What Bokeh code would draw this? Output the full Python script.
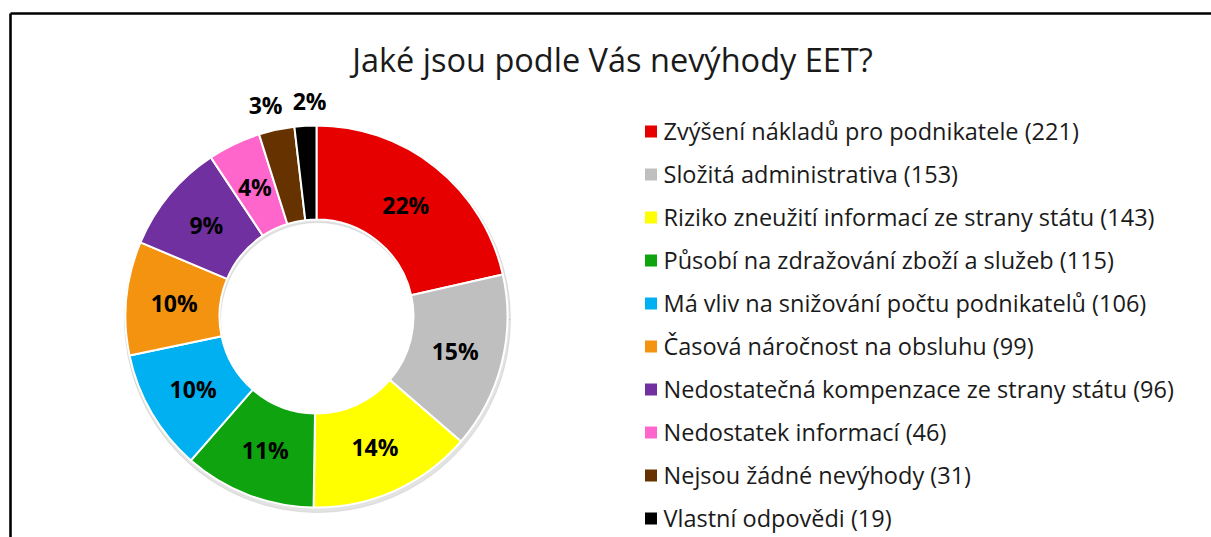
import math
from bokeh.plotting import figure
from bokeh.models import Range1d, ColumnDataSource
from bokeh.core.properties import value
from bokeh.embed import file_html
from bokeh.resources import INLINE

# ---- data ----
title_text = "Jaké jsou podle Vás nevýhody EET?"
categories = [
    "Zvýšení nákladů pro podnikatele",
    "Složitá administrativa",
    "Riziko zneužití informací ze strany státu",
    "Působí na zdražování zboží a služeb",
    "Má vliv na snižování počtu podnikatelů",
    "Časová náročnost na obsluhu",
    "Nedostatečná kompenzace ze strany státu",
    "Nedostatek informací",
    "Nejsou žádné nevýhody",
    "Vlastní odpovědi",
]
counts = [221, 153, 143, 115, 106, 99, 96, 46, 31, 19]
pct_labels = ["22%", "15%", "14%", "11%", "10%", "10%", "9%", "4%", "3%", "2%"]
colors = ["#E60000", "#BFBFBF", "#FFFF00", "#0FA30F", "#00B0F0",
          "#F4930F", "#7030A0", "#FF66CC", "#663300", "#000000"]

# ---- layout (pixel coordinates; y measured from page top) ----
W, H = 1211, 537
def Y(sy):
    return H - sy

p = figure(width=W, height=H, output_backend="svg", toolbar_location=None,
           x_range=Range1d(0, W), y_range=Range1d(0, H), min_border=0)
p.axis.visible = False
p.grid.visible = False
p.outline_line_color = None
p.background_fill_color = "white"
p.border_fill_color = "white"

# frame border (left + top)
p.line(x=[10, 10], y=[Y(13), Y(560)], line_color="black", line_width=2.6)
p.line(x=[10, 1230], y=[Y(13), Y(13)], line_color="black", line_width=2.6)

# title
p.text(x=[612], y=[Y(59)], text=[title_text], text_font=value("Open Sans"),
       text_font_size="32.5px", text_align="center", text_baseline="middle",
       text_color="#1a1a1a")

# donut
cx, cy = 316, 316
r_out, r_in = 191, 97
total = sum(counts)
starts, ends, mids = [], [], []
acc = 0
for v in counts:
    a0 = math.pi / 2 - 2 * math.pi * acc / total
    acc += v
    a1 = math.pi / 2 - 2 * math.pi * acc / total
    starts.append(a0)
    ends.append(a1)
    mids.append((a0 + a1) / 2)

# soft shadow
p.annular_wedge(x=[cx + 1], y=[Y(cy + 3)], inner_radius=r_in, outer_radius=r_out + 2,
                start_angle=0, end_angle=2 * math.pi, color="#cccccc", alpha=0.55)

src = ColumnDataSource(dict(start=starts, end=ends, color=colors))
p.annular_wedge(x=cx, y=Y(cy), inner_radius=r_in, outer_radius=r_out,
                start_angle="start", end_angle="end", direction="clock",
                fill_color="color", line_color="white", line_width=2, source=src)

# slice labels (small slices labelled outside, spread apart to avoid overlap)
lx, ly, outside = [], [], []
for v, m in zip(counts, mids):
    out = v / total < 0.035
    r = 216 if out else 143
    lx.append(cx + r * math.cos(m))
    ly.append(Y(cy) + r * math.sin(m))
    outside.append(out)
oi = [i for i, o in enumerate(outside) if o]
oi.sort(key=lambda i: lx[i])
min_sep = 44
for a, b in zip(oi, oi[1:]):
    gap = lx[b] - lx[a]
    if gap < min_sep:
        shift = (min_sep - gap) / 2
        lx[a] -= shift
        lx[b] += shift
p.text(x=lx, y=ly, text=pct_labels, text_font=value("Open Sans"),
       text_font_size="23px", text_font_style="bold", text_align="center",
       text_baseline="middle", text_color="black")

# legend
row0, step = 131, 43
leg_y = [Y(row0 + step * i) for i in range(len(categories))]
leg_text = [f"{c} ({n})" for c, n in zip(categories, counts)]
p.rect(x=[650.5] * len(categories), y=leg_y, width=12, height=12,
       fill_color=colors, line_color=None)
p.text(x=[663] * len(categories), y=[y + 1 for y in leg_y], text=leg_text,
       text_font=value("Open Sans"), text_font_size="23.5px",
       text_align="left", text_baseline="middle", text_color="#1a1a1a")

open("out.html", "w").write(file_html(p, INLINE))
